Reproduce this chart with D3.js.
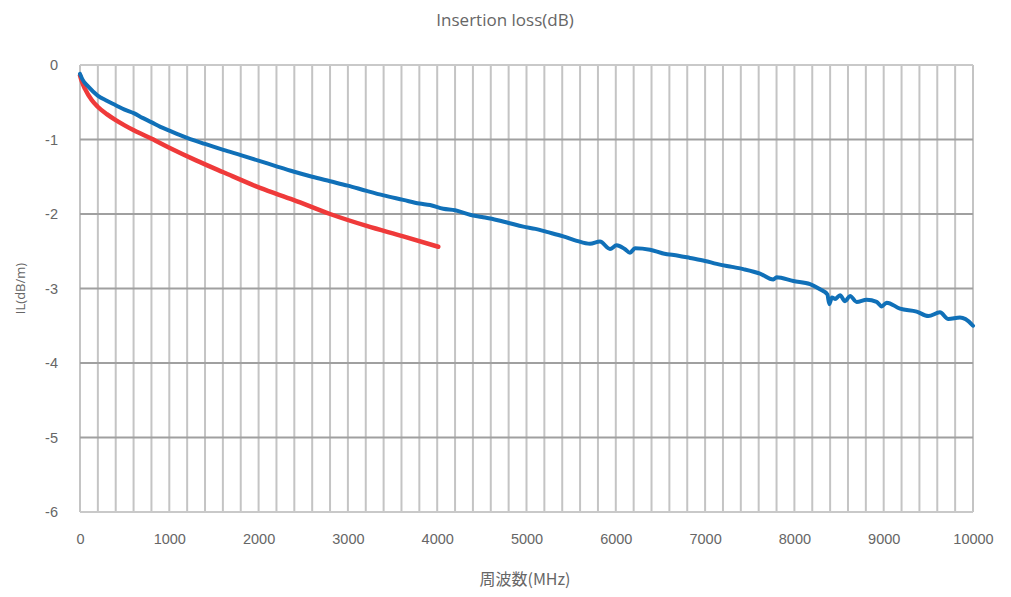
<!DOCTYPE html>
<html>
<head>
<meta charset="utf-8">
<script src="https://cdn.jsdelivr.net/npm/d3@7"></script>
<style>
  html, body { margin:0; padding:0; background:#fff; }
  svg { display:block; font-family:"Open Sans","Noto Sans",sans-serif; }
  .tick-lbl { fill:#666; font-size:14.5px; }
  .title { fill:#666; font-size:17px; }
  .axis-title { fill:#666; }
</style>
</head>
<body>
<div id="chart"></div>
<script>
// ====== données
const X_TICKS = [0,1000,2000,3000,4000,5000,6000,7000,8000,9000,10000];
const Y_TICKS = [0,-1,-2,-3,-4,-5,-6];

// courbe bleue (mesure, bruitée)
const BLUE_F = [0,30,93,198,300,400,500,608,700,803,900,1000,1100,1206,1400,1605,1800,2016,2200,2389,2600,2800,3000,3210,3400,3620,3800,3919,4068,4200,4367,4500,4666,4800,4965,5100,5226,5412,5562,5711,5823,5935,6009,6100,6159,6215,6383,6532,6700,6831,7000,7130,7300,7428,7615,7764,7801,7988,8175,8287,8369,8391,8420,8455,8511,8567,8623,8697,8809,8921,8977,9033,9183,9369,9500,9630,9724,9854,9985,10000];
const BLUE_V = [-0.12,-0.20,-0.29,-0.41,-0.48,-0.54,-0.60,-0.65,-0.71,-0.77,-0.83,-0.88,-0.93,-0.98,-1.06,-1.14,-1.21,-1.29,-1.36,-1.43,-1.50,-1.56,-1.62,-1.69,-1.75,-1.81,-1.86,-1.88,-1.93,-1.95,-2.01,-2.04,-2.08,-2.12,-2.17,-2.20,-2.24,-2.30,-2.36,-2.40,-2.37,-2.47,-2.42,-2.47,-2.52,-2.46,-2.48,-2.53,-2.56,-2.59,-2.63,-2.67,-2.71,-2.74,-2.80,-2.88,-2.85,-2.90,-2.94,-3.01,-3.08,-3.21,-3.12,-3.14,-3.09,-3.17,-3.10,-3.18,-3.15,-3.18,-3.24,-3.19,-3.27,-3.31,-3.37,-3.32,-3.41,-3.39,-3.48,-3.50];

// courbe rouge (lisse, jusqu'à 4000 MHz)
const RED_F = [0,20,56,131,198,300,400,500,608,803,1000,1300,1605,2016,2389,2800,3210,3620,4012];
const RED_V = [-0.14,-0.22,-0.32,-0.47,-0.56,-0.66,-0.74,-0.81,-0.88,-0.99,-1.11,-1.28,-1.44,-1.65,-1.81,-2.00,-2.16,-2.30,-2.44];

// ====== dimensions
const W = 1011, H = 597, M = {t:65, r:38, b:85, l:80};

const svg = d3.select("#chart").append("svg")
  .attr("width", W).attr("height", H);

const x = d3.scaleLinear().domain([0,10000]).range([M.l, W - M.r]);
const y = d3.scaleLinear().domain([-6,0]).range([H - M.b, M.t]);

// grille verticale (tous les 200 MHz)
const vGrid = d3.range(0, 10001, 200);
svg.append("g").selectAll("line").data(vGrid).join("line")
  .attr("x1", d => x(d)).attr("x2", d => x(d))
  .attr("y1", y(0)).attr("y2", y(-6))
  .attr("stroke", "#c4c4c4").attr("stroke-width", 2);

// grille horizontale
svg.append("g").selectAll("line").data(Y_TICKS).join("line")
  .attr("x1", x(0)).attr("x2", x(10000))
  .attr("y1", d => y(d)).attr("y2", d => y(d))
  .attr("stroke", d => (d === 0 || d === -6) ? "#c9c9c9" : "#a0a0a0")
  .attr("stroke-width", 2);

// axes (labels seulement)
const ax = svg.append("g").attr("transform", `translate(0,${y(-6)})`)
  .call(d3.axisBottom(x).tickValues(X_TICKS).tickSize(0).tickPadding(22).tickFormat(d => d));
ax.select(".domain").remove();
ax.selectAll("text").attr("class","tick-lbl").attr("fill", null);

const ay = svg.append("g").attr("transform", `translate(${x(0)},0)`)
  .call(d3.axisLeft(y).tickValues(Y_TICKS).tickSize(0).tickPadding(22).tickFormat(d => d));
ay.select(".domain").remove();
ay.selectAll("text").attr("class","tick-lbl").attr("fill", null);

// courbes
const line = d3.line().x(d => x(d[0])).y(d => y(d[1])).curve(d3.curveMonotoneX);

svg.append("path")
  .datum(RED_F.map((f,i) => [f, RED_V[i]]))
  .attr("fill","none").attr("stroke","#ef3a3a").attr("stroke-width",4.5)
  .attr("stroke-linecap","round")
  .attr("d", line);

svg.append("path")
  .datum(BLUE_F.map((f,i) => [f, BLUE_V[i]]))
  .attr("fill","none").attr("stroke","#1070b8").attr("stroke-width",4)
  .attr("stroke-linejoin","round").attr("stroke-linecap","round")
  .attr("d", line);

// titres
svg.append("text").attr("class","title")
  .attr("x", 505).attr("y", 26).attr("text-anchor","middle")
  .text("Insertion loss(dB)");

svg.append("text").attr("class","axis-title")
  .attr("x", 525).attr("y", 585).attr("text-anchor","middle")
  .style("font-size","16px")
  .style("font-family", '"Noto Sans CJK JP","Open Sans",sans-serif')
  .text("周波数(MHz)");

svg.append("text").attr("class","axis-title")
  .attr("transform", `translate(25,${y(-3)}) rotate(-90)`)
  .attr("text-anchor","middle")
  .style("font-size","13px")
  .text("IL(dB/m)");
</script>
</body>
</html>
